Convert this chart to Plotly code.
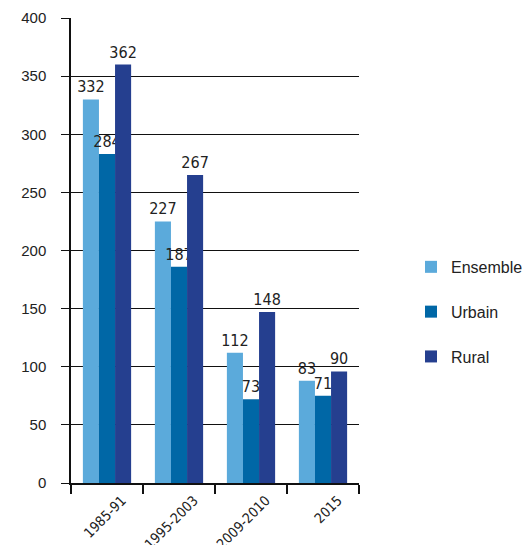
import plotly.graph_objects as go

periods = ["1985-91", "1995-2003", "2009-2010", "2015"]
series_names = ["Ensemble", "Urbain", "Rural"]
ensemble = [332, 227, 112, 83]
urbain = [284, 187, 73, 71]
rural = [362, 267, 148, 90]
# bar heights as drawn in the picture (the 2015 bars are drawn a bit taller than their labels)
ensemble_drawn = [330, 225, 112, 88]
urbain_drawn = [283, 186, 72, 75]
rural_drawn = [360, 265, 147, 96]
y_ticks = [0, 50, 100, 150, 200, 250, 300, 350, 400]

colors = ["#5BAADB", "#0067A6", "#253F8F"]
label_font = "Liberation Sans Narrow, DejaVu Sans Condensed, Arial Narrow, sans-serif"

fig = go.Figure()
for name, drawn, labels, col in zip(series_names,
                                     [ensemble_drawn, urbain_drawn, rural_drawn],
                                     [ensemble, urbain, rural], colors):
    fig.add_trace(go.Bar(
        x=periods, y=drawn, name=name, marker=dict(color=col, line=dict(width=0)),
        text=[str(v) for v in labels], textposition="outside", cliponaxis=False,
        constraintext="none",
        textfont=dict(family=label_font, size=16, color="#222222"),
        legendgroup=name,
    ))

fig.update_layout(
    width=522, height=537,
    margin=dict(l=63, r=171, t=10, b=62, autoexpand=False),
    paper_bgcolor="white", plot_bgcolor="white",
    barmode="group", bargap=0.33, bargroupgap=0,
    showlegend=True,
    legend=dict(xref="container", yref="container", x=0.772, y=0.434,
                xanchor="left", yanchor="middle",
                font=dict(family="Liberation Sans, Arial, sans-serif", size=16, color="#222222"),
                traceorder="grouped", tracegroupgap=21, itemwidth=30),
)
fig.update_yaxes(range=[0, 400], tickvals=y_ticks, showgrid=True, gridcolor="#111111", gridwidth=1,
                 showline=True, linecolor="#111111", linewidth=1.5, automargin=False,
                 ticks="outside", ticklen=8, tickcolor="#111111", tickwidth=1,
                 tickfont=dict(family="Liberation Sans, Arial, sans-serif", size=15, color="#222222"),
                 ticklabelstandoff=12, zeroline=False)
fig.update_xaxes(showline=True, linecolor="#111111", linewidth=1.5, ticks="outside", tickson="boundaries",
                 ticklen=9, tickwidth=2, tickcolor="#111111", tickangle=-45, automargin=False,
                 ticklabelshift=15, ticklabelstandoff=2,
                 tickfont=dict(family=label_font, size=14, color="#222222"))

fig.write_html("out.html")
